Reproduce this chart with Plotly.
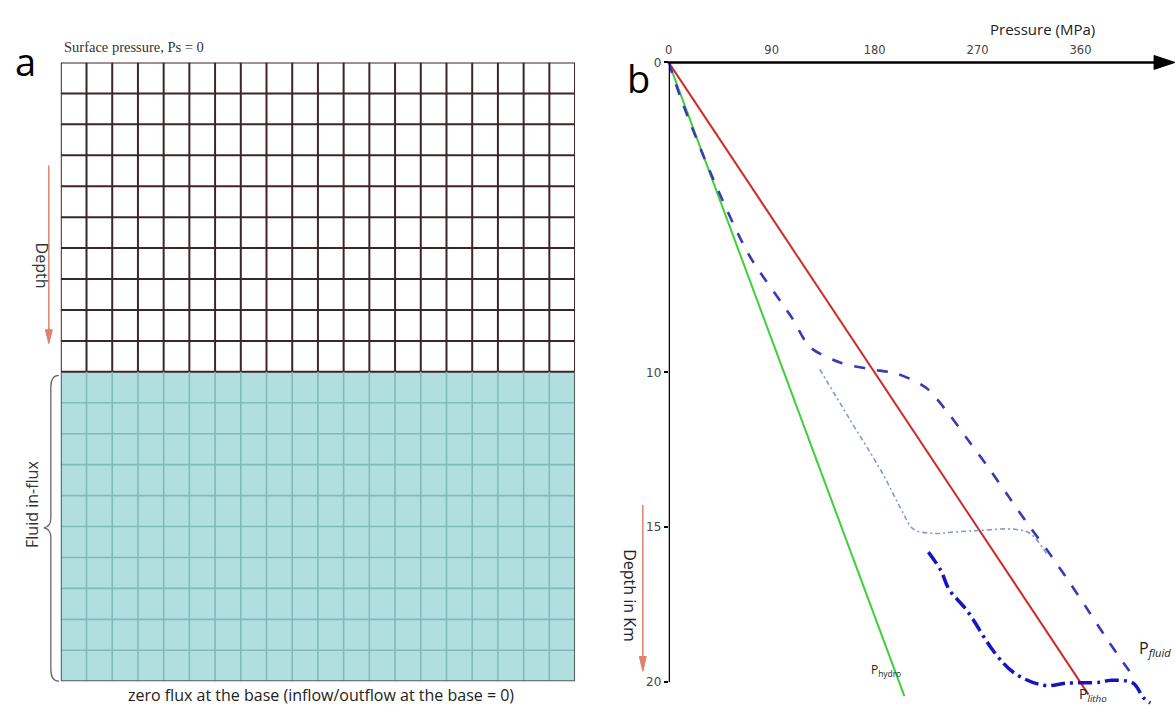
import plotly.graph_objects as go

W, H = 1175, 706

# ---------------- data ----------------
# Panel a: 20 x 20 model grid, fluid in-flux in the lower 10 rows
grid_cols = list(range(0, 21))
grid_rows = list(range(0, 21))
influx_top_row = 10

# Panel b: pressure (MPa) vs depth (km)
hydro_depth = [0, 20.45]
hydro_p = [0, 206]

litho_depth = [0, 20.4]
litho_p = [0, 367]

fluid_depth = [0, 1.2, 3.6, 6.2, 8.2, 9.2, 9.7, 9.9, 10.05, 10.5, 11.3, 12.2, 13.1, 14.0, 14.9, 15.8, 16.7, 17.7, 18.6, 19.5, 19.9]
fluid_p = [0, 11, 37, 70, 107, 124, 151, 177, 200, 225, 244, 262, 280, 297, 314, 332, 349, 367, 383, 400, 408]

mid_depth = [9.9, 11.5, 13.2, 14.4, 15.06, 15.2, 15.15, 15.1, 15.06, 15.2, 15.9]
mid_p = [132, 158, 186, 203, 214, 232, 250, 273, 301, 316, 331]

deep_depth = [15.8, 16.4, 17.0, 17.7, 19.0, 19.7, 20.1, 20.03, 20.0, 19.94, 20.03, 20.5, 20.67]
deep_p = [227, 238, 245, 261, 284, 302, 328, 348, 377, 386, 406, 415, 421]

p_ticks = [0, 90, 180, 270, 360]
d_ticks = [0, 10, 15, 20]


def px(x):
    return x / W


def py(y):
    return 1 - y / H


fig = go.Figure()

# ---------------- panel a ----------------
top_rows = [r for r in grid_rows if r <= influx_top_row]
low_rows = [r for r in grid_rows if influx_top_row < r < grid_rows[-1]]


def hlines(rows, x0, x1):
    xs, ys = [], []
    for r in rows:
        xs += [x0, x1, None]
        ys += [r, r, None]
    return xs, ys


def vlines(cols, y0, y1):
    xs, ys = [], []
    for c in cols:
        xs += [c, c, None]
        ys += [y0, y1, None]
    return xs, ys


xs, ys = hlines(top_rows, grid_cols[0], grid_cols[-1])
xv, yv = vlines(grid_cols, grid_rows[0], influx_top_row)
fig.add_trace(go.Scatter(x=xs + xv, y=ys + yv, mode="lines",
                         line=dict(color="#3d2628", width=2),
                         xaxis="x", yaxis="y", hoverinfo="skip", showlegend=False))

xs, ys = hlines(low_rows, grid_cols[0], grid_cols[-1])
xv, yv = vlines(grid_cols[1:-1], influx_top_row, grid_rows[-1])
fig.add_trace(go.Scatter(x=xs + xv, y=ys + yv, mode="lines",
                         line=dict(color="#82b9bb", width=1.6),
                         xaxis="x", yaxis="y", hoverinfo="skip", showlegend=False))

fig.add_trace(go.Scatter(x=[grid_cols[0], grid_cols[0], grid_cols[-1], grid_cols[-1]],
                         y=[influx_top_row, grid_rows[-1], grid_rows[-1], influx_top_row],
                         mode="lines", line=dict(color="#4f5d5e", width=2),
                         xaxis="x", yaxis="y", hoverinfo="skip", showlegend=False))

# ---------------- panel b ----------------
fig.add_trace(go.Scatter(x=hydro_p, y=hydro_depth, mode="lines",
                         line=dict(color="#3fcf3a", width=2),
                         xaxis="x2", yaxis="y2", showlegend=False, name="P hydro"))
fig.add_trace(go.Scatter(x=litho_p, y=litho_depth, mode="lines",
                         line=dict(color="#d02a2a", width=2),
                         xaxis="x2", yaxis="y2", showlegend=False, name="P litho"))
fig.add_trace(go.Scatter(x=fluid_p, y=fluid_depth, mode="lines", line_shape="spline",
                         line=dict(color="#3a3ab4", width=2.6, dash="11px,12px", smoothing=0.8),
                         xaxis="x2", yaxis="y2", showlegend=False, name="P fluid"))
fig.add_trace(go.Scatter(x=mid_p, y=mid_depth, mode="lines", line_shape="spline",
                         line=dict(color="#7f9ccc", width=1.6, dash="5px,3px,2px,3px"),
                         xaxis="x2", yaxis="y2", showlegend=False, name="P fluid mid"))
fig.add_trace(go.Scatter(x=deep_p, y=deep_depth, mode="lines", line_shape="spline",
                         line=dict(color="#1414c0", width=3.5, dash="14px,5px,3px,5px"),
                         xaxis="x2", yaxis="y2", showlegend=False, name="P fluid deep"))

x2_px0 = 667
px_per_90 = 103.3
y2_px0 = 56
px_per_km = 31.3

x2_max = (W - x2_px0) * 90 / px_per_90
y2_max = (H - y2_px0) / px_per_km

shapes = [
    dict(type="rect", xref="x", yref="y", x0=grid_cols[0], x1=grid_cols[-1],
         y0=influx_top_row, y1=grid_rows[-1], fillcolor="#b1dfe0",
         line=dict(width=0), layer="below"),
    # depth axis line
    dict(type="line", xref="x2", yref="y2", x0=0, x1=0, y0=0, y1=d_ticks[-1],
         line=dict(color="black", width=2.5)),
]


def paper_line(x0, y0, x1, y1, color, width):
    return dict(type="line", xref="paper", yref="paper", x0=px(x0), y0=py(y0),
                x1=px(x1), y1=py(y1), line=dict(color=color, width=width))


def paper_tri(pts, color):
    p = "M " + " L ".join(f"{px(a)},{py(b)}" for a, b in pts) + " Z"
    return dict(type="path", xref="paper", yref="paper", path=p,
                fillcolor=color, line=dict(color=color, width=1))


# pressure axis arrow
shapes.append(paper_line(x2_px0 - 1, y2_px0, 1156, y2_px0, "black", 2.5))
shapes.append(paper_tri([(1154, 49), (1175, 56), (1154, 63)], "black"))
# depth arrows (red)
arrow_red = "#e0806f"
shapes.append(paper_line(45, 160, 45, 328, arrow_red, 1.5))
shapes.append(paper_tri([(41.5, 326), (45, 340), (48.5, 326)], arrow_red))
shapes.append(paper_line(641, 503, 641, 658, arrow_red, 1.5))
shapes.append(paper_tri([(637.5, 656), (641, 671), (644.5, 656)], arrow_red))

# curly brace for fluid in-flux
bx0, bxm, btip = 55, 47, 40
yt, ym, yb = 372, 526, 681
path = (f"M {px(bx0)},{py(yt)} Q {px(bxm)},{py(yt)} {px(bxm)},{py(yt+12)} "
        f"L {px(bxm)},{py(ym-10)} Q {px(bxm)},{py(ym-1)} {px(btip)},{py(ym)} "
        f"Q {px(bxm)},{py(ym+1)} {px(bxm)},{py(ym+10)} "
        f"L {px(bxm)},{py(yb-12)} Q {px(bxm)},{py(yb)} {px(bx0)},{py(yb)}")
shapes.append(dict(type="path", xref="paper", yref="paper", path=path,
                   line=dict(color="#666666", width=1.3)))

sans = "Open Sans"
annotations = [
    dict(x=px(22), y=py(55), xref="paper", yref="paper", text="a", showarrow=False,
         font=dict(family=sans, size=38, color="black"), xanchor="center", yanchor="middle"),
    dict(x=px(58), y=py(40), xref="paper", yref="paper", text="Surface pressure, Ps = 0",
         showarrow=False, font=dict(family="Liberation Serif", size=14.5, color="#333"),
         xanchor="left", yanchor="middle"),
    dict(x=px(38), y=py(261), xref="paper", yref="paper", text="Depth", textangle=90,
         showarrow=False, font=dict(family=sans, size=16, color="#333"),
         xanchor="center", yanchor="middle"),
    dict(x=px(28), y=py(502), xref="paper", yref="paper", text="Fluid in-flux", textangle=-90,
         showarrow=False, font=dict(family=sans, size=16, color="#333"),
         xanchor="center", yanchor="middle"),
    dict(x=px(318), y=py(695), xref="paper", yref="paper",
         text="zero flux at the base (inflow/outflow at the base = 0)",
         showarrow=False, font=dict(family=sans, size=16, color="#222"),
         xanchor="center", yanchor="middle"),
    # panel b
    dict(x=px(637), y=py(72), xref="paper", yref="paper", text="b", showarrow=False,
         font=dict(family=sans, size=38, color="black"), xanchor="center", yanchor="middle"),
    dict(x=px(1042), y=py(22), xref="paper", yref="paper", text="Pressure (MPa)",
         showarrow=False, font=dict(family=sans, size=15, color="#222"),
         xanchor="center", yanchor="middle"),
    dict(x=px(628), y=py(595), xref="paper", yref="paper", text="Depth in Km", textangle=90,
         showarrow=False, font=dict(family=sans, size=16, color="#222"),
         xanchor="center", yanchor="middle"),
    dict(x=175, y=19.6, xref="x2", yref="y2", text="P<sub>hydro</sub>", showarrow=False,
         font=dict(family=sans, size=12, color="#222"), xanchor="left", yanchor="middle"),
    dict(x=357, y=20.4, xref="x2", yref="y2", text="P<sub><i>litho</i></sub>", showarrow=False,
         font=dict(family=sans, size=14, color="#222"), xanchor="left", yanchor="middle"),
    dict(x=409, y=18.9, xref="x2", yref="y2", text="P<sub><i>fluid</i></sub>", showarrow=False,
         font=dict(family=sans, size=16, color="#222"), xanchor="left", yanchor="middle"),
]

fig.update_layout(
    width=W, height=H,
    margin=dict(l=0, r=0, t=0, b=0),
    paper_bgcolor="white", plot_bgcolor="rgba(0,0,0,0)",
    showlegend=False,
    xaxis=dict(domain=[px(57), px(573)], range=[grid_cols[0], grid_cols[-1]], visible=False),
    yaxis=dict(domain=[py(681), py(56)], range=[grid_rows[-1], grid_rows[0]], visible=False),
    xaxis2=dict(domain=[px(x2_px0), 1], range=[0, x2_max], anchor="y2", side="top",
                tickvals=p_ticks, ticktext=[str(v) for v in p_ticks],
                showgrid=False, zeroline=False, showline=False, ticks="",
                ticklabelstandoff=5,
                tickfont=dict(family="DejaVu Sans", size=11.5, color="#444")),
    yaxis2=dict(domain=[0, py(y2_px0)], range=[y2_max, 0], anchor="x2",
                tickvals=d_ticks, ticktext=[str(v) for v in d_ticks],
                showgrid=False, zeroline=False, showline=False, ticks="outside",
                ticklen=4, tickwidth=1.5, tickcolor="black",
                tickfont=dict(family="DejaVu Sans", size=12, color="#444")),
    shapes=shapes,
    annotations=annotations,
)

fig.write_html("out.html")
